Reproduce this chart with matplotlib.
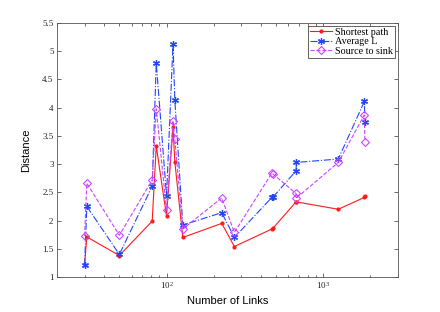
import matplotlib
matplotlib.use("Agg")
import matplotlib.pyplot as plt

links = [30, 31, 50, 81, 86, 100, 110, 113, 127, 225, 271, 470, 480, 670, 675, 1247, 1830, 1845]
shortest = [1.22, 1.71, 1.38, 1.99, 3.32, 2.08, 3.65, 3.04, 1.70, 1.95, 1.54, 1.85, 1.87, 2.33, 2.33, 2.20, 2.41, 2.43]
average_l = [1.21, 2.25, 1.40, 2.61, 4.79, 2.44, 5.13, 4.13, 1.92, 2.14, 1.70, 2.41, 2.42, 2.88, 3.03, 3.09, 4.11, 3.75]
source_sink = [1.73, 2.66, 1.74, 2.72, 3.98, 2.19, 3.77, 3.44, 1.85, 2.40, 1.79, 2.84, 2.82, 2.48, 2.40, 3.03, 3.87, 3.40]

yticks = [1, 1.5, 2, 2.5, 3, 3.5, 4, 4.5, 5, 5.5]
ytick_labels = ["1", "1.5", "2", "2.5", "3", "3.5", "4", "4.5", "5", "5.5"]

fig = plt.figure(figsize=(4.4, 3.12), dpi=100)
ax = fig.add_axes([57/440, 1-277/312, (398-57)/440, (277-23)/312])

ax.plot(links, shortest, color='#ff1a1a', linestyle='-', linewidth=0.8,
        marker='.', markersize=4, label='Shortest path')
ax.plot(links, average_l, color='#2244ff', linestyle='-.', linewidth=0.8,
        marker=(6, 2, 0), markersize=5, markeredgewidth=0.9, label='Average L')
ax.plot(links, source_sink, color='#cc44ff', linestyle='--', linewidth=0.8,
        marker='D', markersize=3.8, markerfacecolor='none', markeredgewidth=0.8,
        label='Source to sink')

ax.set_xscale('log')
ax.set_xlim(20, 3000)
ax.set_ylim(1, 5.5)
ax.set_yticks(yticks)
ax.set_yticklabels(ytick_labels)

serif = ['Liberation Serif', 'DejaVu Serif']
for lab in ax.get_xticklabels() + ax.get_yticklabels():
    lab.set_fontfamily(serif)
    lab.set_fontsize(6.5)

ax.tick_params(which='both', direction='in', top=True, right=True,
               colors='#333333', labelcolor='#222222')
ax.tick_params(which='major', length=3, width=0.5, pad=2.5)
ax.tick_params(which='minor', length=1.8, width=0.5)
for s in ax.spines.values():
    s.set_color('#555555')
    s.set_linewidth(0.6)

ax.set_xlabel('Number of Links', fontfamily=['Liberation Sans', 'DejaVu Sans'], fontsize=8, labelpad=3)
ax.set_ylabel('Distance', fontfamily=['Liberation Sans', 'DejaVu Sans'], fontsize=8, labelpad=8)

leg = ax.legend(loc='upper right', prop={'family': serif, 'size': 7.3},
                fancybox=False, framealpha=1, edgecolor='#222222',
                borderpad=0.2, labelspacing=0.05, handlelength=2.2,
                handletextpad=0.3, borderaxespad=0.25)
leg.get_frame().set_linewidth(0.5)

fig.savefig('out.png', dpi=100)
